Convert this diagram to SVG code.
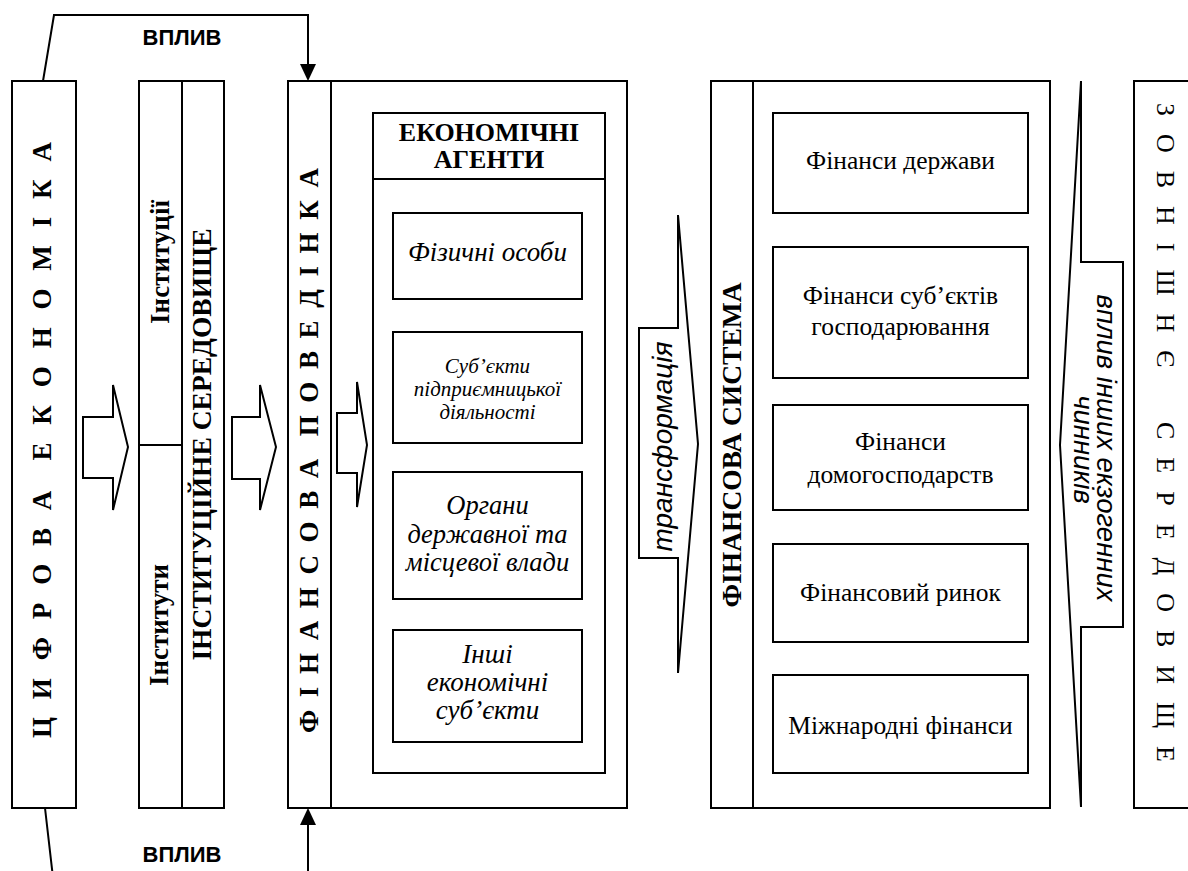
<svg xmlns="http://www.w3.org/2000/svg" width="1188" height="871" viewBox="0 0 1188 871">
<style>
.box{fill:#fff;stroke:#000;stroke-width:2}
.ln{fill:none;stroke:#000;stroke-width:2}
.blk{fill:#fff;stroke:#000;stroke-width:2;stroke-linejoin:miter}
.sb{font-family:"Liberation Serif","Times New Roman",serif;font-weight:bold;fill:#000}
.sr{font-family:"Liberation Serif","Times New Roman",serif;fill:#000}
.si{font-family:"Liberation Serif","Times New Roman",serif;font-style:italic;fill:#000}
.ai{font-family:"Liberation Sans",Arial,sans-serif;font-style:italic;fill:#000}
.ab{font-family:"Liberation Sans",Arial,sans-serif;font-weight:bold;fill:#000}
.c{text-anchor:middle}
</style>
<defs>
<marker id="ah" markerUnits="userSpaceOnUse" markerWidth="17" markerHeight="16" refX="0" refY="8" orient="auto">
<path d="M0,0 L17,8 L0,16 Z" fill="#000"/>
</marker>
</defs>
<rect width="1188" height="871" fill="#fff"/>

<g id="digital-economy">
<rect class="box" x="12" y="81" width="64" height="727"/>
<text class="sb c" font-size="27" transform="translate(51,440) rotate(-90)" textLength="596" lengthAdjust="spacing" xml:space="preserve">Ц И Ф Р О В А  Е К О Н О М І К А</text>
</g>

<g id="institutional-environment">
<rect class="box" x="139" y="81" width="85" height="727"/>
<line class="ln" x1="182" y1="81" x2="182" y2="808"/>
<line class="ln" x1="139" y1="445" x2="182" y2="445"/>
<text class="sb c" font-size="27" transform="translate(169,262) rotate(-90)">Інституції</text>
<text class="sb c" font-size="27" transform="translate(168,625) rotate(-90)">Інститути</text>
<text class="sb c" font-size="27.5" transform="translate(211,444.5) rotate(-90)">ІНСТИТУЦІЙНЕ СЕРЕДОВИЩЕ</text>
</g>

<g id="financial-behaviour">
<rect class="box" x="288" y="81" width="339" height="727"/>
<line class="ln" x1="331" y1="81" x2="331" y2="808"/>
<text class="sb c" font-size="27" transform="translate(318,450.5) rotate(-90)" textLength="565" lengthAdjust="spacing" xml:space="preserve">Ф І Н А Н С О В А  П О В Е Д І Н К А</text>
</g>

<g id="economic-agents">
<rect class="box" x="373" y="113" width="232" height="660"/>
<line class="ln" x1="373" y1="179" x2="605" y2="179"/>
<text class="sb c" font-size="26" x="489" y="141">ЕКОНОМІЧНІ</text>
<text class="sb c" font-size="26" x="489" y="168">АГЕНТИ</text>
</g>

<g id="individuals">
<rect class="box" x="393" y="213" width="189" height="86"/>
<text class="si c" font-size="27" x="487.5" y="261">Фізичні особи</text>
</g>
<g id="entrepreneurs">
<rect class="box" x="393" y="332" width="189" height="111"/>
<text class="si c" font-size="21" x="487.5" y="373">Суб’єкти</text>
<text class="si c" font-size="21" x="487.5" y="396">підприємницької</text>
<text class="si c" font-size="21" x="487.5" y="419">діяльності</text>
</g>
<g id="authorities">
<rect class="box" x="393" y="472" width="189" height="127"/>
<text class="si c" font-size="26.5" x="487.5" y="514">Органи</text>
<text class="si c" font-size="26.5" x="487.5" y="543">державної та</text>
<text class="si c" font-size="26.5" x="487.5" y="571">місцевої влади</text>
</g>
<g id="other-agents">
<rect class="box" x="393" y="630" width="189" height="112"/>
<text class="si c" font-size="27" x="487.5" y="663">Інші</text>
<text class="si c" font-size="27" x="487.5" y="691">економічні</text>
<text class="si c" font-size="27" x="487.5" y="719">суб’єкти</text>
</g>

<g id="financial-system">
<rect class="box" x="711" y="81" width="339" height="727"/>
<line class="ln" x1="753" y1="81" x2="753" y2="808"/>
<text class="sb c" font-size="27.5" transform="translate(741,445) rotate(-90)">ФІНАНСОВА СИСТЕМА</text>
</g>
<g id="state-finance">
<rect class="box" x="773" y="113" width="255" height="100"/>
<text class="sr c" font-size="25.5" x="900.5" y="169">Фінанси держави</text>
</g>
<g id="business-finance">
<rect class="box" x="773" y="247" width="255" height="131"/>
<text class="sr c" font-size="25.5" x="900.5" y="304">Фінанси суб’єктів</text>
<text class="sr c" font-size="25.5" x="900.5" y="335">господарювання</text>
</g>
<g id="household-finance">
<rect class="box" x="773" y="405" width="255" height="105"/>
<text class="sr c" font-size="25.5" x="900.5" y="450">Фінанси</text>
<text class="sr c" font-size="25.5" x="900.5" y="483">домогосподарств</text>
</g>
<g id="financial-market">
<rect class="box" x="773" y="544" width="255" height="98"/>
<text class="sr c" font-size="25.5" x="900.5" y="601">Фінансовий ринок</text>
</g>
<g id="international-finance">
<rect class="box" x="773" y="675" width="255" height="98"/>
<text class="sr c" font-size="25.5" x="900.5" y="734">Міжнародні фінанси</text>
</g>

<g id="external-environment">
<rect class="box" x="1134" y="81" width="80" height="727"/>
<text class="sr c" font-size="26" transform="translate(1157,432.5) rotate(90)" textLength="659" lengthAdjust="spacing" xml:space="preserve">З О В Н І Ш Н Є    С Е Р Е Д О В И Щ Е</text>
</g>

<g id="connectors">
<path class="ln" d="M43,81 L54,15 L308,15 L308,64" marker-end="url(#ah)"/>
<text class="ab c" font-size="22" x="182" y="45">ВПЛИВ</text>
<path class="ln" d="M45,808 L55,895 L308,895 L308,825" marker-end="url(#ah)"/>
<text class="ab c" font-size="22" x="182" y="862">ВПЛИВ</text>
<polygon class="blk" points="83,417 113,417 113,385 128,447 113,510 113,478 83,478"/>
<polygon class="blk" points="232,417 260,417 260,385 276,447 260,510 260,479 232,479"/>
<polygon class="blk" points="337,413 357,413 357,382 367,445 357,507 357,473 337,473"/>
<polygon class="blk" points="639,328 678,328 678,215 698,444 678,673 678,558 639,558"/>
<text class="ai c" font-size="28" transform="translate(672,446.5) rotate(-90)">трансформація</text>
<polygon class="blk" points="1081,81 1081,262 1123,262 1123,627 1081,627 1081,807 1060,445"/>
<text class="ai c" font-size="27.5" transform="translate(1097,448) rotate(90)">вплив інших екзогенних</text>
<text class="ai c" font-size="27.5" transform="translate(1074,449.5) rotate(90)">чинників</text>
</g>
</svg>
